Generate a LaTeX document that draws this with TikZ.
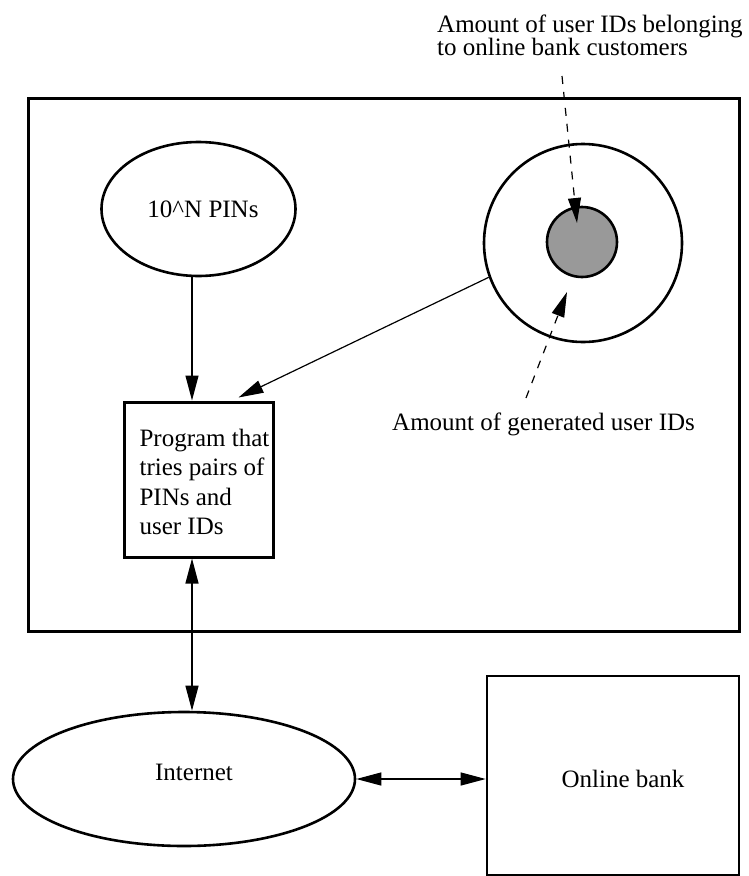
\documentclass[tikz,border=0pt]{standalone}
\usepackage{fontspec}
\setmainfont{Liberation Serif}
\usetikzlibrary{arrows.meta,shapes.geometric}
\begin{document}
\begin{tikzpicture}[x=1pt,y=-1pt,
  txt/.style={font=\fontsize{25}{29.6}\selectfont},
  thickline/.style={line width=2.6pt},
  boxline/.style={line width=3pt},
  tip/.tip={Triangle[length=25pt,width=13pt]},
  conn/.style={line width=1.2pt,-tip},
  conn2/.style={line width=1.2pt,tip-tip},
  dconn/.style={conn, dash pattern=on 8pt off 8pt},
]
\useasboundingbox (0,0) rectangle (748,876);

% frame
\node[draw, boxline, minimum width=711pt, minimum height=533pt, inner sep=0] (frame) at (383.5,364.5) {};

% nodes
\node[ellipse, draw, thickline, minimum width=194pt, minimum height=134pt, inner sep=0, txt] (pins) at (198.5,209) {\hspace*{9pt}10\textasciicircum N PINs};

\node[draw, boxline, minimum width=149pt, minimum height=155pt, inner sep=0, txt, text height=30.7pt] (prog) at (198.5,479.5)
  {\hspace*{12pt}\begin{tabular}[t]{@{}l@{}}Program that\\tries pairs of\\PINs and\\user IDs\end{tabular}};

\node[circle, draw, thickline, minimum size=198pt, inner sep=0] (outer) at (583,243) {};
\node[circle, draw, thickline, fill=black!40, minimum size=70pt, inner sep=0] (inner) at (582,242) {};

\node[font=\fontsize{25}{21}\selectfont, anchor=base west, inner sep=0] (lab1) at (437,32)
  {\begin{tabular}[t]{@{}l@{}}Amount of user IDs belonging\\to online bank customers\end{tabular}};
\node[txt, anchor=base west, inner sep=0] (lab2) at (392,430) {Amount of generated user IDs};

\node[ellipse, draw, thickline, minimum width=342pt, minimum height=134pt, inner sep=0, txt, text height=16.5pt, text depth=14pt] (inet) at (184,779) {\hspace*{20pt}Internet};

\node[draw, thickline, minimum width=252pt, minimum height=199pt, inner sep=0, txt, text height=23pt, text depth=0pt] (bank) at (613,775.5) {\hspace*{20pt}Online bank};

% connectors
\draw[conn] ([xshift=-6.5pt]pins.south) -- ([xshift=-6.5pt]prog.north);
\draw[conn] (outer.200) -- ([xshift=40pt,yshift=3pt]prog.north);
\draw[conn2] ([xshift=-6.5pt]prog.south) -- ([xshift=-6.5pt]prog.south |- inet.north);
\draw[conn2] (inet.east) -- (inet.east -| bank.west);

\coordinate (d1s) at (562,76);
\coordinate (d2s) at (526,398);
\draw[dconn] (d1s) -- ([xshift=-5pt,yshift=19pt]inner.center);
\draw[dconn] (d2s) -- ([xshift=-15pt,yshift=-50pt]inner.center);
\end{tikzpicture}
\end{document}
